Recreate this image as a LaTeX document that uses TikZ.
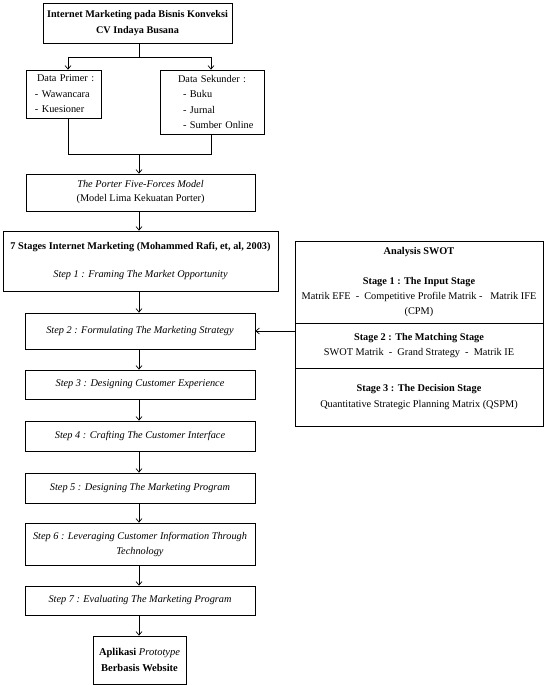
\documentclass[tikz,border=0pt]{standalone}
\usepackage{fontspec}
\setmainfont{Liberation Serif}
\usetikzlibrary{arrows.meta}
\begin{document}
\begin{tikzpicture}[x=1pt,y=-1pt,
  box/.style={draw, line width=0.8pt, inner sep=0pt, align=center, font=\fontsize{10.3}{15.5}\selectfont},
  stepbox/.style={box, minimum width=230pt, font=\fontsize{10.3}{15.5}\selectfont\itshape},
  arr/.style={-{Straight Barb[length=3.5pt,width=6pt]}, line width=0.7pt},
  ln/.style={line width=0.7pt}]
\useasboundingbox (0,0) rectangle (547,685);
% top
\node[box, minimum width=189pt, minimum height=40pt, font=\fontsize{10.2}{16}\selectfont\bfseries] (top) at (137.5,23) {Internet Marketing pada Bisnis Konveksi\\CV Indaya Busana};
\node[box, minimum width=75pt, minimum height=48pt, text width=67pt, align=left] (primer) at (63.5,94) {\hspace*{7pt}Data Primer :\\\hspace*{5pt}- Wawancara\\\hspace*{5pt}- Kuesioner};
\node[box, minimum width=104pt, minimum height=64pt, text width=96pt, align=left] (sekunder) at (212,102) {\hspace*{14pt}Data Sekunder :\\\hspace*{19pt}- Buku\\\hspace*{19pt}- Jurnal\\\hspace*{19pt}- Sumber Online};
\node[box, minimum width=229pt, minimum height=37pt, font=\fontsize{10.3}{14}\selectfont] (porter) at (140.5,192.5) {\textit{The Porter Five-Forces Model}\\(Model Lima Kekuatan Porter)};
\node[box, minimum width=275pt, minimum height=60pt] (stages) at (140.5,261) {\textbf{7 Stages Internet Marketing (Mohammed Rafi, et, al, 2003)}\\[13pt]\textit{Step 1 : Framing The Market Opportunity}};
\node[stepbox, minimum height=36pt] (s2) at (140,331) {Step 2 : Formulating The Marketing Strategy};
\node[stepbox, minimum height=29pt] (s3) at (140,384.5) {Step 3 : Designing Customer Experience};
\node[stepbox, minimum height=30pt] (s4) at (140,436) {Step 4 : Crafting The Customer Interface};
\node[stepbox, minimum height=30pt] (s5) at (140,488) {Step 5 : Designing The Marketing Program};
\node[stepbox, minimum height=42pt, font=\fontsize{10.3}{15}\selectfont\itshape] (s6) at (140,544) {Step 6 : Leveraging Customer Information Through\\Technology};
\node[stepbox, minimum height=29pt] (s7) at (140,600.5) {Step 7 : Evaluating The Marketing Program};
\node[box, minimum width=93pt, minimum height=48pt, font=\fontsize{10.5}{16}\selectfont] (final) at (139.5,660) {\textbf{Aplikasi} \textit{Prototype}\\\textbf{Berbasis Website}};
% SWOT
\node[box, minimum width=248pt, minimum height=82pt, font=\fontsize{10.3}{15}\selectfont] (w1) at (419,282) {\textbf{Analysis SWOT}\\[15pt]\textbf{Stage 1 : The Input Stage}\\Matrik EFE\ \ -\ \ Competitive Profile Matrik -\ \ \ Matrik IFE\\(CPM)};
\node[box, minimum width=248pt, minimum height=45pt, font=\fontsize{10.3}{15}\selectfont] (w2) at (419,345.5) {\textbf{Stage 2 : The Matching Stage}\\SWOT Matrik\ \ -\ \ Grand Strategy\ \ -\ \ Matrik IE};
\node[box, minimum width=248pt, minimum height=58pt, font=\fontsize{10.3}{16}\selectfont] (w3) at (419,397) {\textbf{Stage 3 : The Decision Stage}\\Quantitative Strategic Planning Matrix (QSPM)};
% junctions
\coordinate (j0) at (139,57);
\coordinate (jl) at (68,57);
\coordinate (jr) at (211,57);
\coordinate (kl) at (68,154);
\coordinate (kr) at (211,154);
\coordinate (k0) at (139,154);
\draw[ln] (j0 |- top.south) -- (j0);
\draw[ln] (jl) -- (jr);
\draw[arr] (jl) -- (jl |- primer.north);
\draw[arr] (jr) -- (jr |- sekunder.north);
\draw[ln] (kl |- primer.south) -- (kl) -- (kr) -- (kr |- sekunder.south);
\draw[arr] (k0) -- (k0 |- porter.north);
\draw[arr] (k0 |- porter.south) -- (k0 |- stages.north);
\draw[arr] (k0 |- stages.south) -- (k0 |- s2.north);
\draw[arr] (k0 |- s2.south) -- (k0 |- s3.north);
\draw[arr] (k0 |- s3.south) -- (k0 |- s4.north);
\draw[arr] (k0 |- s4.south) -- (k0 |- s5.north);
\draw[arr] (k0 |- s5.south) -- (k0 |- s6.north);
\draw[arr] (k0 |- s6.south) -- (k0 |- s7.north);
\draw[arr] (k0 |- s7.south) -- (k0 |- final.north);
\draw[arr] (s2.east -| w2.west) -- (s2.east);
\end{tikzpicture}
\end{document}
